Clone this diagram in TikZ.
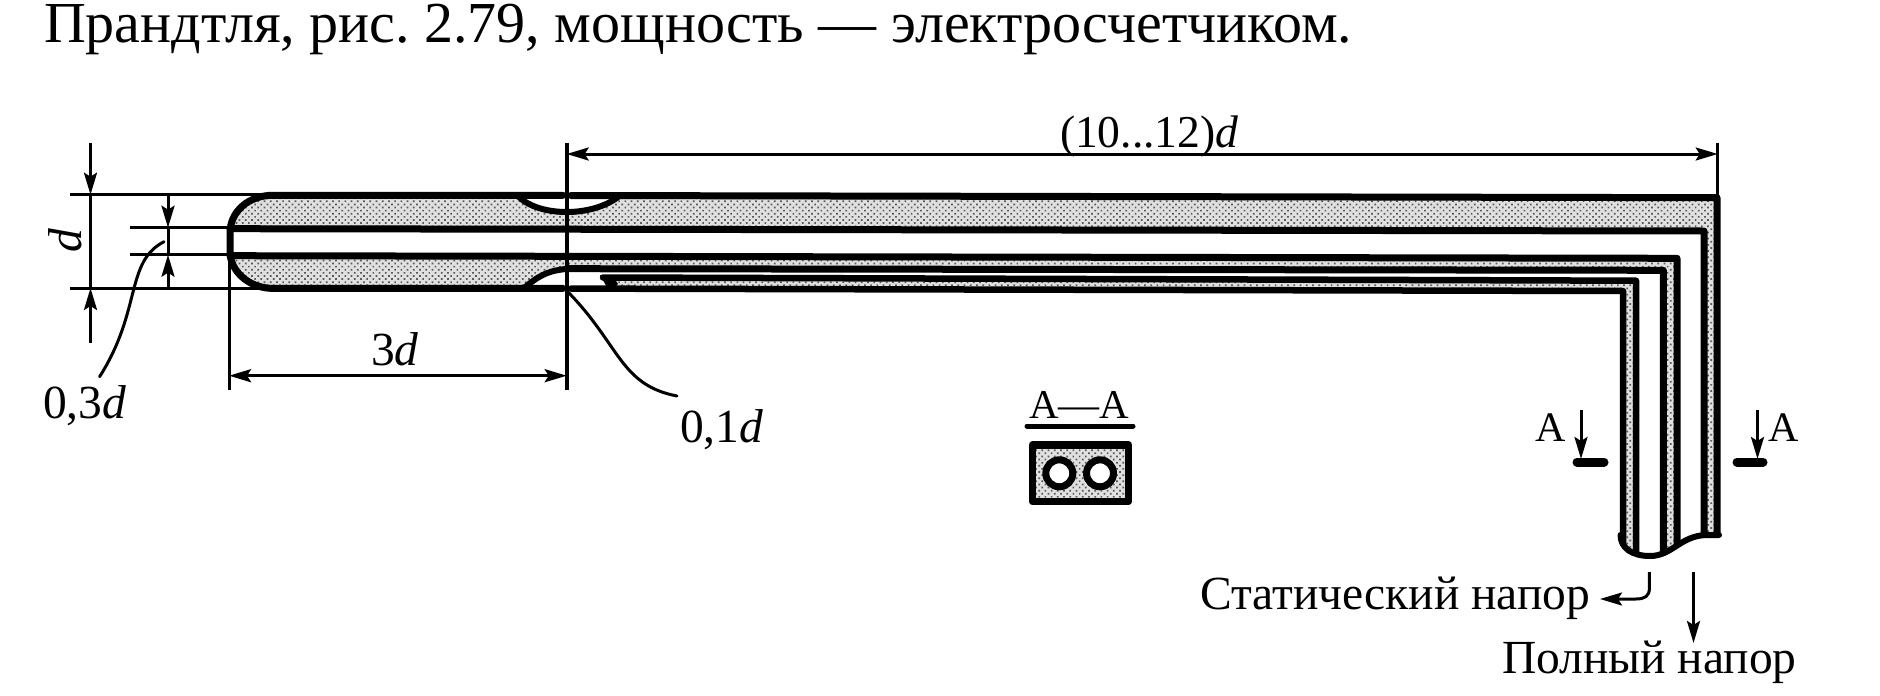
\documentclass[tikz,border=0pt]{standalone}
\usepackage{fontspec}
\setmainfont{Liberation Serif}
\usetikzlibrary{arrows.meta,patterns.meta}
\definecolor{halftone}{gray}{0.88}
\definecolor{halfdot}{gray}{0.35}
\tikzset{
  wall/.style={line width=7pt,line join=round,line cap=round},
  thinline/.style={line width=3pt},
  dim/.style={line width=3pt,{Stealth[length=22pt,width=13pt,inset=4pt]}-{Stealth[length=22pt,width=13pt,inset=4pt]}},
  arr/.style={line width=3pt,-{Stealth[length=22pt,width=13pt,inset=4pt]}},
  shade/.style={fill=halftone,postaction={pattern={Dots[distance=4.4pt,radius=1.2pt,angle=45]},pattern color=halfdot}},
  txt/.style={inner sep=0pt,outer sep=0pt,font=\fontsize{47.5}{48}\selectfont,anchor=base west},
  bar/.style={line width=9pt,line cap=round}
}
\frenchspacing
\begin{document}
\begin{tikzpicture}[x=1pt,y=-1pt]
\useasboundingbox (0,0) rectangle (1880,696);
\begin{scope}
\clip (0,0) -- (1880,0) -- (1880,535) -- (1706,535) .. controls (1680,536) and (1672,556) .. (1650,556) .. controls (1632,556) and (1620.5,548) .. (1620.5,535) -- (0,535) -- cycle;
% shaded bands
\path[shade] (273,195.3) -- (1717,197.7) -- (1717,570) -- (1704,570) -- (1704,231) -- (230,228.7) -- (230,233) .. controls (230,212) and (248,195.3) .. (273,195.3) -- cycle;
\path[shade] (230,255.7) -- (1677,258.3) -- (1677,570) -- (1663.3,570) -- (1663.3,270.3) -- (563,268.7) .. controls (548,270) and (538,276) .. (525,288.4) -- (273,288.4) .. controls (248,288.4) and (230,270) .. (230,252) -- cycle;
\path[shade] (610,280) -- (1636,280.7) -- (1636,570) -- (1623,570) -- (1623,291) -- (610,289) -- cycle;
% white lenses
\fill[white] (520,197) .. controls (540,216) and (590,216) .. (616,197) -- cycle;
\fill[white] (525,288.4) .. controls (538,276) and (548,270) .. (570,268.7) -- (570,288.4) -- cycle;
% tube walls
\draw[wall] (563,195.3) -- (273,195.3) .. controls (248,195.3) and (230,212) .. (230,233) -- (230,252) .. controls (230,270) and (248,288.4) .. (273,288.4) -- (563,288.4);
\draw[wall] (571,195.5) -- (1717,197.7) -- (1717,570);
\draw[wall] (230,228.7) -- (1704,231) -- (1704,570);
\draw[wall] (230,255.7) -- (1677,258.3) -- (1677,570);
\draw[wall] (568,268.7) -- (1663.3,270.3) -- (1663.3,570);
\draw[wall,line width=6.5pt] (603,277.5) -- (1636,280.7) -- (1636,570);
\draw[wall,line width=6.5pt] (571,288.6) -- (1623,291) -- (1623,570);
\fill (600,275) -- (612,275) -- (618,284) -- (612,289) -- (608,289) -- cycle;
\end{scope}
\draw[line width=6pt] (519,197) .. controls (540,217) and (592,217) .. (618,197);
\draw[line width=6pt] (523,289) .. controls (538,276) and (548,270) .. (570,268.7);
% end cut
\draw[line width=6pt,line cap=round] (1620.5,535) .. controls (1620.5,548) and (1632,556) .. (1650,556) .. controls (1672,556) and (1680,536) .. (1706,535) -- (1719,535);
% extension lines
\coordinate (a1) at (70,194.7); \coordinate (a2) at (262,194.7);
\coordinate (b1) at (130,227.7); \coordinate (b2) at (230,227.7);
\coordinate (c1) at (130,254.7); \coordinate (c2) at (230,254.7);
\coordinate (e1) at (70,288); \coordinate (e2) at (262,288);
\draw[thinline] (a1) -- (a2) (b1) -- (b2) (c1) -- (c2) (e1) -- (e2);
% vertical ext lines
\draw[line width=3.6pt] (566.7,143) -- (566.7,390);
\draw[thinline] (229,262) -- (229,390);
\draw[thinline] (1717.7,143) -- (1717.7,197);
% dimensions
\coordinate (d1) at (90.5,143); \coordinate (d2) at (90.5,194.7);
\coordinate (d3) at (90.5,288); \coordinate (d4) at (90.5,343);
\draw[arr] (d1) -- (d2); \draw[arr] (d4) -- (d3); \draw[thinline] (d2) -- (d3);
\coordinate (s1) at (168,194.7); \coordinate (s2) at (168,227.7);
\coordinate (s3) at (168,254.7); \coordinate (s4) at (168,288);
\draw[arr] (s1) -- (s2); \draw[arr] (s4) -- (s3); \draw[thinline] (s2) -- (s3);
\coordinate (w1) at (229,375.7); \coordinate (w2) at (566.7,375.7);
\draw[dim] (w1) -- (w2);
\coordinate (l1) at (566.7,154); \coordinate (l2) at (1717.7,154);
\draw[dim] (l1) -- (l2);
% leaders
\coordinate (q1) at (164,241.7);
\coordinate (q2) at (99.6,376.7);
\draw[thinline,line cap=round] (q1) .. controls (125,262) and (142,310) .. (q2);
\coordinate (r1) at (568,292);
\coordinate (r2) at (677,396);
\draw[thinline,line cap=round] (r1) .. controls (620,345) and (620,385) .. (r2);
% texts
\node[txt,font=\fontsize{58}{58}\selectfont] (title) at (44,42) {Прандтля, рис. 2.79, мощность — электросчетчиком.};
\node[txt,font=\fontsize{45.6}{46}\selectfont] (len) at (1060,147) {(10...12)\textit{d}};
\node[txt] (width) at (371,365) {3\textit{d}};
\node[txt,rotate=90] (dl) at (81,252) {\textit{d}};
\node[txt] (l03) at (43,418) {0,3\textit{d}};
\node[txt] (l01) at (680,442) {0,1\textit{d}};
\node[txt,font=\fontsize{41}{41}\selectfont] (aa) at (1029,418) {А—А};
\draw[line width=5pt,line cap=round] (1027,426) -- (1133,426);
% section view
\path[shade] (1032,445) rectangle (1128.5,501.5);
\fill[white] (1059.3,473.3) circle (10) (1100,473.3) circle (10);
\draw[line width=7pt] (1059.3,473.3) circle (13.5) (1100,473.3) circle (13.5);
\draw[line width=7.5pt,line join=round] (1032.5,445) rectangle (1128.5,501.5);
% section marks
\node[txt,font=\fontsize{42}{42}\selectfont] (al) at (1535,441) {А};
\node[txt,font=\fontsize{42}{42}\selectfont] (ar) at (1768,441) {А};
\draw[bar] (1577,462) -- (1604,462);
\draw[bar] (1737,462) -- (1763,462);
\coordinate (m1) at (1581,410); \coordinate (m2) at (1581,459);
\coordinate (m3) at (1757.5,410); \coordinate (m4) at (1757.5,459);
\draw[arr] (m1) -- (m2); \draw[arr] (m3) -- (m4);
% flows
\node[txt] (st) at (1200,609) {Статический напор};
\node[txt] (pn) at (1502,673) {Полный напор};
\coordinate (f1) at (1649.4,572); \coordinate (f2) at (1600,599);
\draw[arr] (f1) -- (1649.4,588) .. controls (1649.4,596) and (1645,599) .. (1636,599) -- (f2);
\coordinate (g1) at (1693.5,572); \coordinate (g2) at (1693.5,643);
\draw[arr] (g1) -- (g2);
\end{tikzpicture}
\end{document}
